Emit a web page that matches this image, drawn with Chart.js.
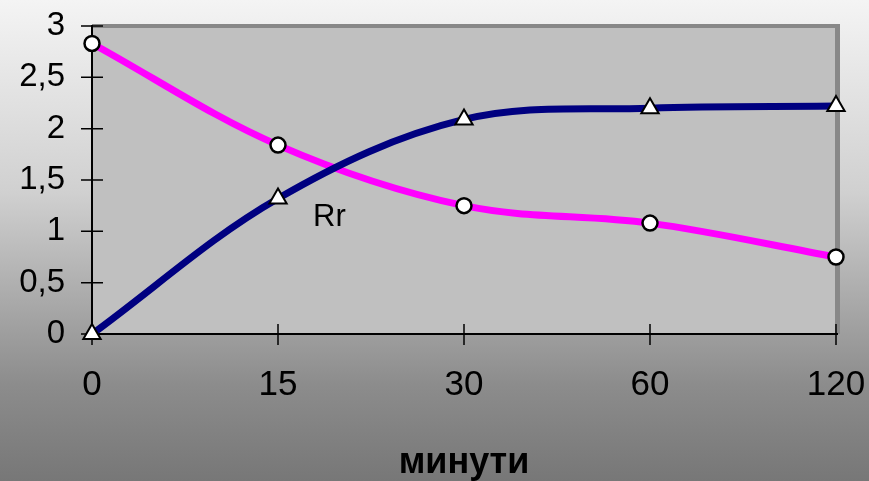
<!DOCTYPE html>
<html>
<head>
<meta charset="utf-8">
<script src="https://cdn.jsdelivr.net/npm/chart.js@4/dist/chart.umd.min.js"></script>
<style>
  html, body { margin: 0; padding: 0; }
  body {
    width: 869px;
    height: 481px;
    background: linear-gradient(to bottom, #f4f4f4 0%, #d0d0d0 40%, #8c8c8c 80%, #777777 100%);
  }
  #wrap { width: 869px; height: 481px; }
</style>
</head>
<body>
<div id="wrap"><canvas id="chart"></canvas></div>
<script>
const categories = ["0", "15", "30", "60", "120"];
const navyValues = [0, 1.32, 2.09, 2.2, 2.22];
const magentaValues = [2.83, 1.84, 1.25, 1.08, 0.75];
const yTicks = [0, 0.5, 1, 1.5, 2, 2.5, 3];
const axisTitle = "минути";
const noteText = "Rr";

// plot area fill, 3D frame, axis lines and crossing tick marks
const frame = {
  id: "frame",
  beforeDatasetsDraw(chart) {
    const { ctx, chartArea: a, scales } = chart;
    ctx.save();
    ctx.fillStyle = "#c0c0c0";
    ctx.fillRect(a.left, a.top, a.right - a.left, a.bottom - a.top);

    ctx.fillStyle = "#888888";
    ctx.fillRect(a.left, a.top - 2, a.right - a.left + 4, 4);
    ctx.fillRect(a.right - 1, a.top - 2, 5, a.bottom - a.top + 2);

    ctx.strokeStyle = "#000";
    ctx.lineWidth = 2;
    ctx.beginPath();
    ctx.moveTo(a.left, a.top - 1);
    ctx.lineTo(a.left, a.bottom);
    ctx.lineTo(a.right + 2, a.bottom);
    ctx.stroke();

    ctx.lineWidth = 1.5;
    ctx.beginPath();
    yTicks.forEach((v) => {
      const y = scales.y.getPixelForValue(v);
      ctx.moveTo(a.left - 11, y);
      ctx.lineTo(a.left + 11, y);
    });
    categories.forEach((c, i) => {
      const x = scales.x.getPixelForValue(i);
      ctx.moveTo(x, a.bottom - 10);
      ctx.lineTo(x, a.bottom + 11);
    });
    ctx.stroke();
    ctx.restore();
  },
  afterDatasetsDraw(chart) {
    const { ctx, scales } = chart;
    ctx.save();
    ctx.fillStyle = "#000";
    ctx.font = "31px 'Liberation Sans', Arial, sans-serif";
    ctx.textBaseline = "alphabetic";
    ctx.fillText(noteText, scales.x.getPixelForValue(1) + 35, scales.y.getPixelForValue(1.05));
    ctx.restore();
  },
};

new Chart(document.getElementById("chart"), {
  type: "line",
  data: {
    labels: categories,
    datasets: [
      {
        data: navyValues,
        borderColor: "#000080",
        borderWidth: 7,
        tension: 0.35,
        pointStyle: "triangle",
        pointRadius: 10,
        pointBackgroundColor: "#ffffff",
        pointBorderColor: "#000000",
        pointBorderWidth: 2,
        clip: false,
      },
      {
        data: magentaValues,
        borderColor: "#ff00ff",
        borderWidth: 7,
        tension: 0.35,
        pointStyle: "circle",
        pointRadius: 7.5,
        pointBackgroundColor: "#ffffff",
        pointBorderColor: "#000000",
        pointBorderWidth: 2.5,
        clip: false,
      },
    ],
  },
  options: {
    responsive: true,
    maintainAspectRatio: false,
    animation: false,
    events: [],
    layout: { padding: { top: 26, right: 33, left: 0, bottom: 0 } },
    plugins: {
      legend: { display: false },
      tooltip: { enabled: false },
    },
    scales: {
      x: {
        offset: false,
        grid: { display: false, drawTicks: false },
        border: { display: false },
        ticks: {
          color: "#000",
          padding: 30,
          maxRotation: 0,
          font: { family: "'Liberation Sans', Arial, sans-serif", size: 35 },
        },
        title: {
          display: true,
          text: axisTitle,
          color: "#000",
          padding: 0,
          font: { family: "'Liberation Sans', Arial, sans-serif", size: 36, weight: "bold", lineHeight: 1 },
        },
        afterFit(scale) {
          scale.height = 147;
          scale.paddingLeft = 0;
          scale.paddingRight = 0;
        },
      },
      y: {
        min: 0,
        max: 3,
        grid: { display: false, drawTicks: false },
        border: { display: false },
        afterBuildTicks(scale) { scale.ticks = yTicks.map((v) => ({ value: v })); },
        ticks: {
          color: "#000",
          padding: 27,
          font: { family: "'Liberation Sans', Arial, sans-serif", size: 33 },
          callback: (v) => String(v).replace(".", ","),
        },
        afterFit(scale) {
          scale.width = 92;
          scale.paddingTop = 0;
          scale.paddingBottom = 0;
        },
      },
    },
  },
  plugins: [frame],
});
</script>
</body>
</html>
